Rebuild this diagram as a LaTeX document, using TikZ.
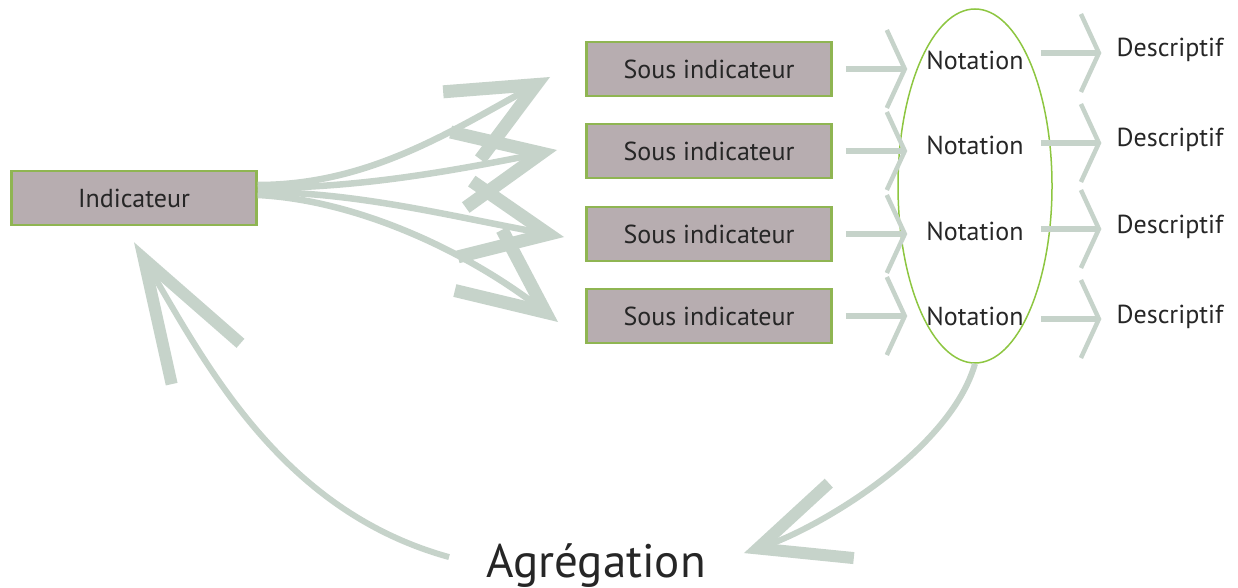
\documentclass[tikz,border=0pt]{standalone}
\usepackage{fontspec}
\setmainfont{PT Sans}
\usetikzlibrary{arrows.meta,shapes.geometric,calc}
\definecolor{sage}{HTML}{C6D3CA}
\definecolor{boxfill}{HTML}{B7ADB0}
\definecolor{boxline}{HTML}{8FB552}
\definecolor{ringline}{HTML}{8DC641}
\definecolor{ink}{HTML}{262626}
\begin{document}
\begin{tikzpicture}[x=1pt,y=-1pt,
  box/.style={draw=boxline, line width=2.5pt, fill=boxfill,
    minimum width=245pt, minimum height=54pt, inner sep=0pt,
    font=\fontsize{26}{30}\selectfont, text=ink},
  lbl/.style={font=\fontsize{26}{30}\selectfont, text=ink, inner sep=0pt, anchor=base},
  fan/.style={draw=sage, line width=6.5pt,
    -{Straight Barb[length=85pt,width=77pt,line width'=13pt]}},
  link/.style={draw=sage, line width=6pt,
    -{Straight Barb[length=18pt,width=78pt,line width'=4.5pt]}},
  loop/.style={draw=sage, line width=6pt},
]
\useasboundingbox (0,0) rectangle (1238,588);

% main indicator and its four sub-indicators
\node[box] (ind) at (134,198) {Indicateur};
\node[box] (s1) at (709,69)  {Sous indicateur};
\node[box] (s2) at (709,151) {Sous indicateur};
\node[box] (s3) at (709,234) {Sous indicateur};
\node[box] (s4) at (709,316) {Sous indicateur};

% scores and descriptions
\node[lbl] (n1) at (975,70)  {Notation};
\node[lbl] (n2) at (975,155) {Notation};
\node[lbl] (n3) at (975,240) {Notation};
\node[lbl] (n4) at (975,325) {Notation};
\node[lbl] (d1) at (1170,57)  {Descriptif};
\node[lbl] (d2) at (1170,147) {Descriptif};
\node[lbl] (d3) at (1170,233) {Descriptif};
\node[lbl] (d4) at (1170,323) {Descriptif};

% ring grouping the scores
\node[draw=ringline, line width=1.5pt, ellipse, minimum width=154pt,
  minimum height=354pt, inner sep=0pt] (ring) at (975,186) {};

\node[font=\fontsize{47}{52}\selectfont, text=ink, inner sep=0pt, anchor=base]
  (agr) at (596,577) {Agrégation};

% tips of the fan arrows
\coordinate (t1) at (550,77);
\coordinate (t2) at (557,150);
\coordinate (t3) at (564,237);
\coordinate (t4) at (558,322);

\draw[fan] ([yshift=13pt]ind.east) .. controls +(110,0) and +(-100,55) .. (t1);
\draw[fan] ([yshift=10pt]ind.east) .. controls +(100,0) and +(-110,22) .. (t2);
\draw[fan] ([yshift=6pt]ind.east) .. controls +(100,0) and +(-110,-20) .. (t3);
\draw[fan] ([yshift=3pt]ind.east) .. controls +(100,5) and +(-90,-70) .. (t4);

% sub-indicator -> score -> description
\foreach \i in {1,...,4}{
  \draw[link] ([xshift=13pt]s\i.east) -- ($(n\i.west |- s\i.east)+(-19,0)$);
  \coordinate (din\i) at ($(d\i.base west)+(-15,-4)$);
  \draw[link] ($(n\i.east |- din\i)+(17,0)$) -- (din\i);
}

% aggregation loop
\draw[loop, -{Straight Barb[length=88pt,width=79pt,line width'=12pt]}]
  (ring.south) .. controls +(-25,87) and +(75,-25) .. ($(agr.east)+(38,-12)$);
\coordinate (ret) at ($(ind.south)+(0,16)$);
\draw[loop, -{Straight Barb[length=122pt,width=80pt,line width'=12pt]}]
  ($(agr.west)+(-37,-8)$) .. controls +(-170,-47) and +(70,118) .. (ret);
\end{tikzpicture}
\end{document}
